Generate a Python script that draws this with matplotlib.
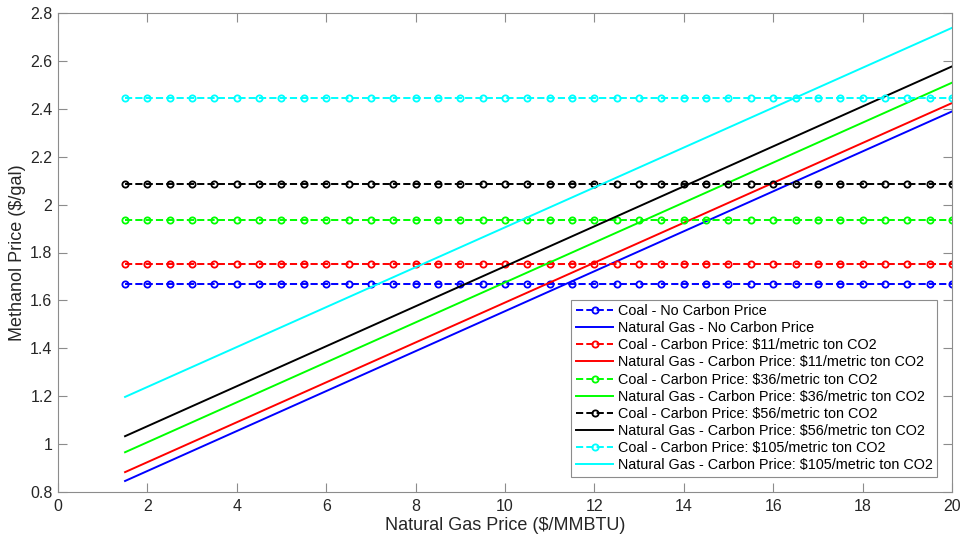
import numpy as np
import matplotlib
matplotlib.use('Agg')
import matplotlib.pyplot as plt
from matplotlib.ticker import FormatStrFormatter

plt.rcParams['font.family'] = ['Liberation Sans', 'DejaVu Sans']

# natural gas price grid ($/MMBTU)
gas_price = np.arange(1.5, 20.01, 0.5)

carbon_labels = ['No Carbon Price',
                 'Carbon Price: $11/metric ton CO2',
                 'Carbon Price: $36/metric ton CO2',
                 'Carbon Price: $56/metric ton CO2',
                 'Carbon Price: $105/metric ton CO2']
colors = ['#0000ff', '#ff0000', '#00ff00', '#000000', '#00ffff']

# coal-based methanol price (flat, $/gal)
coal_price = [1.67, 1.75, 1.935, 2.085, 2.445]

# natural gas-based methanol price at gas price 1.5 and 20
ng_ends_x = [1.5, 20]
ng_start = [0.846, 0.883, 0.966, 1.033, 1.197]
ng_end = [2.389, 2.424, 2.509, 2.577, 2.738]

fig = plt.figure(figsize=(9.62, 5.42), dpi=100)
ax = fig.add_axes([58/962, 1 - 492/542, (952-58)/962, (492-13)/542])

for i in range(len(carbon_labels)):
    ax.plot(gas_price, np.full(len(gas_price), coal_price[i]), '--o', color=colors[i],
            lw=1.4, ms=4.5, mfc='none', mew=1.3,
            label='Coal - ' + carbon_labels[i])
    ax.plot(ng_ends_x, [ng_start[i], ng_end[i]], '-', color=colors[i], lw=1.4,
            label='Natural Gas - ' + carbon_labels[i])

ax.set_xlim(0, 20)
ax.set_ylim(0.8, 2.8)
ax.set_xticks(np.arange(0, 21, 2))
ax.set_yticks(np.arange(0.8, 2.81, 0.2))
ax.yaxis.set_major_formatter(FormatStrFormatter('%g'))
ax.tick_params(direction='in', length=6.5, width=0.8, color='0.55', labelsize=11.5,
               top=True, right=True, labelcolor='0.15')
ax.tick_params(axis='y', pad=4)
ax.tick_params(axis='x', pad=5)
for s in ax.spines.values():
    s.set_color('0.55')
    s.set_linewidth(0.8)

ax.set_xlabel('Natural Gas Price ($/MMBTU)', fontsize=13, color='0.15', labelpad=2)
ax.set_ylabel('Methanol Price ($/gal)', fontsize=13, color='0.15', labelpad=3)

leg = ax.legend(loc='lower right', fontsize=10.4, fancybox=False, framealpha=1,
                edgecolor='0.55', borderaxespad=1.05, handlelength=2.6,
                labelspacing=0.22, handletextpad=0.3, borderpad=0.3)
leg.get_frame().set_linewidth(0.8)

fig.savefig('out.png', dpi=100)
